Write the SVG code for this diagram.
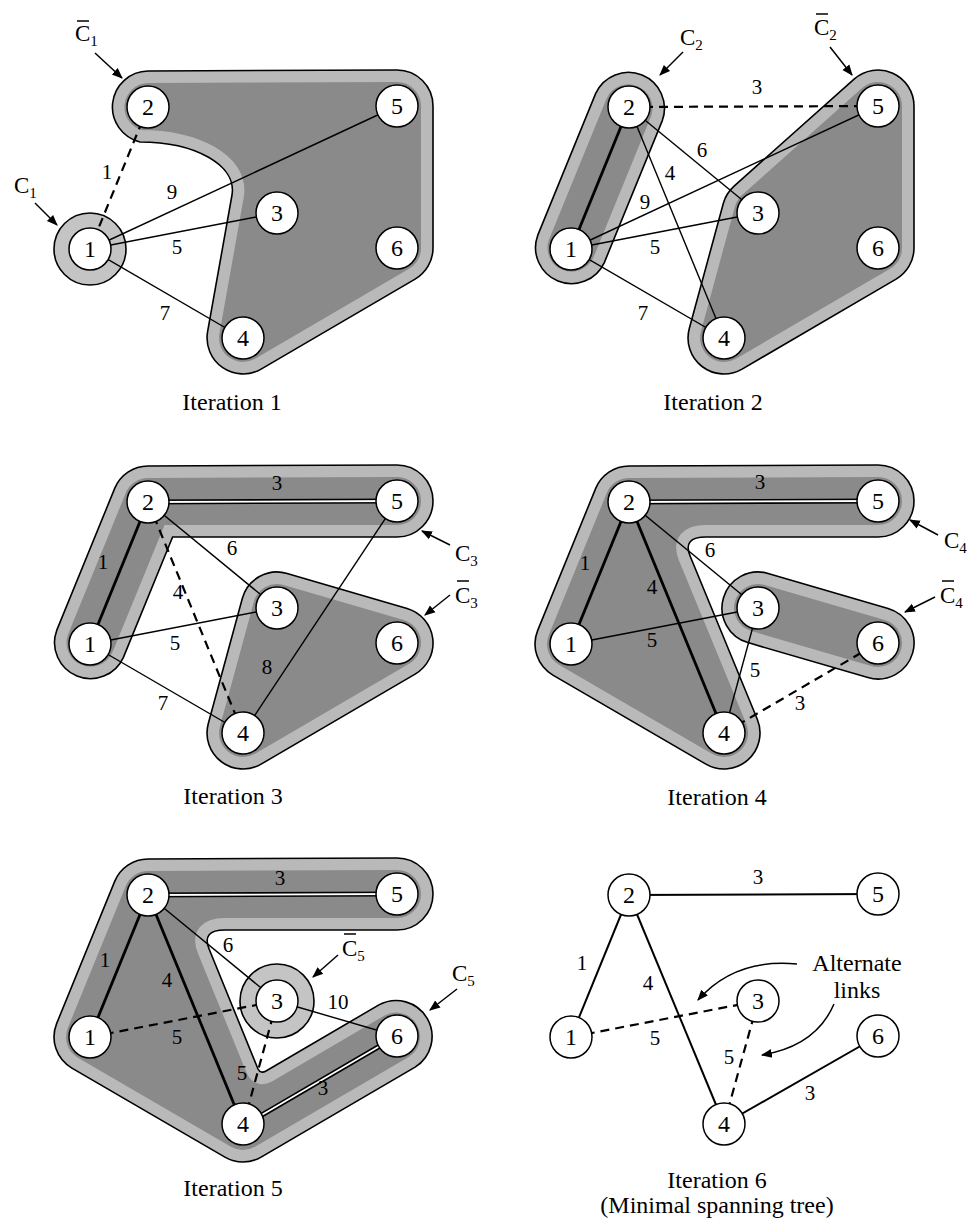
<svg xmlns="http://www.w3.org/2000/svg" xmlns:xlink="http://www.w3.org/1999/xlink" width="967" height="1222" viewBox="0 0 967 1222">
<style>
.n circle{fill:#fff;stroke:#000;stroke-width:1.5}
.n text{font-family:"Liberation Serif",serif;font-size:24px;text-anchor:middle;fill:#000}
.reg{fill:#8a8a8a;stroke:none}
.band{fill:none;stroke:#b9b9b9;stroke-width:24}
.out{fill:none;stroke:#000;stroke-width:1.6}
.ring{fill:#c4c4c4;stroke:#000;stroke-width:1.6}
.e line,.e path{stroke:#000;stroke-width:1.4;fill:none}
.e .d{stroke-dasharray:9 6;stroke-width:2.2}
.e .t{stroke-width:2.8}
.e .dbo{stroke-width:5}
.e .dbi{stroke:#fff;stroke-width:1.8}
.e .s6{stroke-width:2}
.lb{font-family:"Liberation Serif",serif;font-size:21px;text-anchor:middle;fill:#000}
.cl{font-family:"Liberation Serif",serif;font-size:23px;fill:#000}
.sub{font-size:15px}
.cap{font-family:"Liberation Serif",serif;font-size:24px;text-anchor:middle;fill:#000}
.ar{stroke:#000;stroke-width:1.5;fill:none;marker-end:url(#ah)}
.bar{stroke:#000;stroke-width:1.5}
</style>
<defs>
<marker id="ah" viewBox="0 0 10 10" refX="9" refY="5" markerWidth="11" markerHeight="11" markerUnits="userSpaceOnUse" orient="auto"><path d="M0,1 L10,5 L0,9 z" fill="#000"/></marker>
<path id="R1" d="M 148,71 L 397,70 A 36 36 0 0 1 433,106 L 433,248 A 36 36 0 0 1 415.1,279.1 L 261.1,369.1 A 36 36 0 0 1 207.6,331.7 L 232,195 C 237,165 195,142 140,142 A 36 36 0 0 1 148,71 Z"/>
<path id="R2a" d="M 123.3,262.6 L 181.3,120.6 A 36 36 0 0 0 114.7,93.4 L 56.7,235.4 A 36 36 0 0 0 123.3,262.6 Z"/>
<path id="R2b" d="M 373.1,79.1 A 36 36 0 0 1 433,106 L 433,248 A 36 36 0 0 1 415.1,279.1 L 261.1,369.1 A 36 36 0 0 1 208.3,328.5 L 242.3,203.5 A 36 36 0 0 1 253.1,186.1 Z"/>
<path id="R3a" d="M 148,71 L 397,70 A 36 36 0 0 1 397,142 L 172.6,142 L 123.3,262.6 A 36 36 0 0 1 56.7,235.4 L 114.7,93.4 A 36 36 0 0 1 148,71 Z"/>
<path id="R3b" d="M 287.1,178.4 L 407.1,213.4 A 36 36 0 0 1 415.1,279.1 L 261.1,369.1 A 36 36 0 0 1 208.3,328.5 L 242.3,203.5 A 36 36 0 0 1 287.1,178.4 Z"/>
<path id="R4a" d="M 148,71 L 397,70 A 36 36 0 0 1 397,142 L 225,142 Q 201.3,142 209.1,161 L 276.3,324.3 A 36 36 0 0 1 224.9,369.1 L 71.9,280.1 A 36 36 0 0 1 56.7,235.4 L 114.7,93.4 A 36 36 0 0 1 148,71 Z"/>
<path id="R4b" d="M 287.1,178.4 L 407.1,213.4 A 36 36 0 0 1 386.9,282.6 L 266.9,247.6 A 36 36 0 0 1 287.1,178.4 Z"/>
<path id="R5" d="M 148,71 L 397,70 A 36 36 0 0 1 397,142 L 225,142 Q 201.3,142 209.1,161 L 258,281 Q 260.6,286 266,283 L 378.9,216.9 A 36 36 0 0 1 415.1,279.1 L 261.1,369.1 A 36 36 0 0 1 224.9,369.1 L 71.9,280.1 A 36 36 0 0 1 56.7,235.4 L 114.7,93.4 A 36 36 0 0 1 148,71 Z"/>
<clipPath id="cR1"><use xlink:href="#R1"/></clipPath>
<clipPath id="cR2a"><use xlink:href="#R2a"/></clipPath>
<clipPath id="cR2b"><use xlink:href="#R2b"/></clipPath>
<clipPath id="cR3a"><use xlink:href="#R3a"/></clipPath>
<clipPath id="cR3b"><use xlink:href="#R3b"/></clipPath>
<clipPath id="cR4a"><use xlink:href="#R4a"/></clipPath>
<clipPath id="cR4b"><use xlink:href="#R4b"/></clipPath>
<clipPath id="cR5"><use xlink:href="#R5"/></clipPath>
</defs>
<rect width="967" height="1222" fill="#fff"/>

<!-- Panel 1 -->
<g id="panel1">
<g id="p1-regions">
<use xlink:href="#R1" class="reg"/><use xlink:href="#R1" class="band" clip-path="url(#cR1)"/><use xlink:href="#R1" class="out"/>
<circle class="ring" cx="90" cy="249" r="36"/>
</g>
<g id="p1-connectors" class="e">
<line class="d" x1="148" y1="107" x2="90" y2="249"/>
<line x1="90" y1="249" x2="397" y2="106"/>
<line x1="90" y1="249" x2="277" y2="213"/>
<line x1="90" y1="249" x2="243" y2="338"/>
<text class="lb" x="107" y="179">1</text>
<text class="lb" x="172" y="199">9</text>
<text class="lb" x="177" y="254">5</text>
<text class="lb" x="165" y="320">7</text>
</g>
<g id="p1-n1" class="n"><circle cx="90" cy="249" r="21"/><text x="90" y="257">1</text></g>
<g id="p1-n2" class="n"><circle cx="148" cy="107" r="21"/><text x="148" y="115">2</text></g>
<g id="p1-n3" class="n"><circle cx="277" cy="213" r="21"/><text x="277" y="221">3</text></g>
<g id="p1-n4" class="n"><circle cx="243" cy="338" r="21"/><text x="243" y="346">4</text></g>
<g id="p1-n5" class="n"><circle cx="397" cy="106" r="21"/><text x="397" y="114">5</text></g>
<g id="p1-n6" class="n"><circle cx="397" cy="248" r="21"/><text x="397" y="256">6</text></g>
<g id="p1-labels">
<text class="cl" x="75" y="41">C<tspan class="sub" dy="5">1</tspan></text><line class="bar" x1="77" y1="21" x2="89" y2="21"/>
<line class="ar" x1="95" y1="53" x2="122" y2="78"/>
<text class="cl" x="14" y="193">C<tspan class="sub" dy="5">1</tspan></text>
<line class="ar" x1="35" y1="203" x2="57" y2="225"/>
<text class="cap" x="232" y="410">Iteration 1</text>
</g>
</g>

<!-- Panel 2 -->
<g id="panel2">
<g id="p2-regions" transform="translate(481,0)">
<use xlink:href="#R2a" class="reg"/><use xlink:href="#R2a" class="band" clip-path="url(#cR2a)"/><use xlink:href="#R2a" class="out"/>
<use xlink:href="#R2b" class="reg"/><use xlink:href="#R2b" class="band" clip-path="url(#cR2b)"/><use xlink:href="#R2b" class="out"/>
</g>
<g id="p2-connectors" class="e" transform="translate(481,0)">
<line class="t" x1="148" y1="107" x2="90" y2="249"/>
<line class="d" x1="148" y1="107" x2="397" y2="106"/>
<line x1="148" y1="107" x2="277" y2="213"/>
<line x1="148" y1="107" x2="243" y2="338"/>
<line x1="90" y1="249" x2="397" y2="106"/>
<line x1="90" y1="249" x2="277" y2="213"/>
<line x1="90" y1="249" x2="243" y2="338"/>
<text class="lb" x="276" y="94">3</text>
<text class="lb" x="221" y="157">6</text>
<text class="lb" x="189" y="180">4</text>
<text class="lb" x="164" y="209">9</text>
<text class="lb" x="174" y="254">5</text>
<text class="lb" x="162" y="320">7</text>
</g>
<g transform="translate(481,0)">
<g id="p2-n1" class="n"><circle cx="90" cy="249" r="21"/><text x="90" y="257">1</text></g>
<g id="p2-n2" class="n"><circle cx="148" cy="107" r="21"/><text x="148" y="115">2</text></g>
<g id="p2-n3" class="n"><circle cx="277" cy="213" r="21"/><text x="277" y="221">3</text></g>
<g id="p2-n4" class="n"><circle cx="243" cy="338" r="21"/><text x="243" y="346">4</text></g>
<g id="p2-n5" class="n"><circle cx="397" cy="106" r="21"/><text x="397" y="114">5</text></g>
<g id="p2-n6" class="n"><circle cx="397" cy="248" r="21"/><text x="397" y="256">6</text></g>
</g>
<g id="p2-labels">
<text class="cl" x="680" y="45">C<tspan class="sub" dy="5">2</tspan></text>
<line class="ar" x1="683" y1="52" x2="660" y2="75"/>
<text class="cl" x="814" y="35">C<tspan class="sub" dy="5">2</tspan></text><line class="bar" x1="816" y1="14" x2="828" y2="14"/>
<line class="ar" x1="830" y1="47" x2="852" y2="75"/>
<text class="cap" x="713" y="410">Iteration 2</text>
</g>
</g>

<!-- Panel 3 -->
<g id="panel3">
<g id="p3-regions" transform="translate(0,395)">
<use xlink:href="#R3a" class="reg"/><use xlink:href="#R3a" class="band" clip-path="url(#cR3a)"/><use xlink:href="#R3a" class="out"/>
<use xlink:href="#R3b" class="reg"/><use xlink:href="#R3b" class="band" clip-path="url(#cR3b)"/><use xlink:href="#R3b" class="out"/>
</g>
<g id="p3-connectors" class="e" transform="translate(0,395)">
<line class="dbo" x1="148" y1="107" x2="397" y2="106"/><line class="dbi" x1="148" y1="107" x2="397" y2="106"/>
<line class="t" x1="148" y1="107" x2="90" y2="249"/>
<line x1="148" y1="107" x2="277" y2="213"/>
<line class="d" x1="148" y1="107" x2="243" y2="338"/>
<line x1="90" y1="249" x2="277" y2="213"/>
<line x1="90" y1="249" x2="243" y2="338"/>
<line x1="397" y1="106" x2="243" y2="338"/>
<text class="lb" x="277" y="95">3</text>
<text class="lb" x="103" y="174">1</text>
<text class="lb" x="232" y="160">6</text>
<text class="lb" x="178" y="204">4</text>
<text class="lb" x="175" y="255">5</text>
<text class="lb" x="163" y="315">7</text>
<text class="lb" x="267" y="279">8</text>
</g>
<g transform="translate(0,395)">
<g id="p3-n1" class="n"><circle cx="90" cy="249" r="21"/><text x="90" y="257">1</text></g>
<g id="p3-n2" class="n"><circle cx="148" cy="107" r="21"/><text x="148" y="115">2</text></g>
<g id="p3-n3" class="n"><circle cx="277" cy="213" r="21"/><text x="277" y="221">3</text></g>
<g id="p3-n4" class="n"><circle cx="243" cy="338" r="21"/><text x="243" y="346">4</text></g>
<g id="p3-n5" class="n"><circle cx="397" cy="106" r="21"/><text x="397" y="114">5</text></g>
<g id="p3-n6" class="n"><circle cx="397" cy="248" r="21"/><text x="397" y="256">6</text></g>
</g>
<g id="p3-labels">
<text class="cl" x="455" y="561">C<tspan class="sub" dy="5">3</tspan></text>
<line class="ar" x1="450" y1="545" x2="422" y2="531"/>
<text class="cl" x="455" y="603">C<tspan class="sub" dy="5">3</tspan></text><line class="bar" x1="457" y1="581" x2="469" y2="581"/>
<line class="ar" x1="450" y1="595" x2="425" y2="615"/>
<text class="cap" x="233" y="804">Iteration 3</text>
</g>
</g>

<!-- Panel 4 -->
<g id="panel4">
<g id="p4-regions" transform="translate(481,395)">
<use xlink:href="#R4a" class="reg"/><use xlink:href="#R4a" class="band" clip-path="url(#cR4a)"/><use xlink:href="#R4a" class="out"/>
<use xlink:href="#R4b" class="reg"/><use xlink:href="#R4b" class="band" clip-path="url(#cR4b)"/><use xlink:href="#R4b" class="out"/>
</g>
<g id="p4-connectors" class="e" transform="translate(481,395)">
<line class="dbo" x1="148" y1="107" x2="397" y2="106"/><line class="dbi" x1="148" y1="107" x2="397" y2="106"/>
<line class="t" x1="148" y1="107" x2="90" y2="249"/>
<line class="t" x1="148" y1="107" x2="243" y2="338"/>
<line x1="148" y1="107" x2="277" y2="213"/>
<line x1="90" y1="249" x2="277" y2="213"/>
<line x1="277" y1="213" x2="243" y2="338"/>
<line class="d" x1="243" y1="338" x2="397" y2="248"/>
<text class="lb" x="279" y="94">3</text>
<text class="lb" x="104" y="175">1</text>
<text class="lb" x="171" y="199">4</text>
<text class="lb" x="171" y="252">5</text>
<text class="lb" x="229" y="162">6</text>
<text class="lb" x="274" y="282">5</text>
<text class="lb" x="319" y="315">3</text>
</g>
<g transform="translate(481,395)">
<g id="p4-n1" class="n"><circle cx="90" cy="249" r="21"/><text x="90" y="257">1</text></g>
<g id="p4-n2" class="n"><circle cx="148" cy="107" r="21"/><text x="148" y="115">2</text></g>
<g id="p4-n3" class="n"><circle cx="277" cy="213" r="21"/><text x="277" y="221">3</text></g>
<g id="p4-n4" class="n"><circle cx="243" cy="338" r="21"/><text x="243" y="346">4</text></g>
<g id="p4-n5" class="n"><circle cx="397" cy="106" r="21"/><text x="397" y="114">5</text></g>
<g id="p4-n6" class="n"><circle cx="397" cy="248" r="21"/><text x="397" y="256">6</text></g>
</g>
<g id="p4-labels">
<text class="cl" x="944" y="548">C<tspan class="sub" dy="5">4</tspan></text>
<line class="ar" x1="938" y1="535" x2="910" y2="520"/>
<text class="cl" x="940" y="603">C<tspan class="sub" dy="5">4</tspan></text><line class="bar" x1="942" y1="581" x2="954" y2="581"/>
<line class="ar" x1="935" y1="597" x2="905" y2="612"/>
<text class="cap" x="717" y="805">Iteration 4</text>
</g>
</g>

<!-- Panel 5 -->
<g id="panel5">
<g id="p5-regions" transform="translate(0,788)">
<use xlink:href="#R5" class="reg"/><use xlink:href="#R5" class="band" clip-path="url(#cR5)"/><use xlink:href="#R5" class="out"/>
<circle class="ring" cx="277" cy="213" r="37"/>
</g>
<g id="p5-connectors" class="e" transform="translate(0,788)">
<line class="dbo" x1="148" y1="107" x2="397" y2="106"/><line class="dbi" x1="148" y1="107" x2="397" y2="106"/>
<line class="dbo" x1="243" y1="338" x2="397" y2="248"/><line class="dbi" x1="243" y1="338" x2="397" y2="248"/>
<line class="t" x1="148" y1="107" x2="90" y2="249"/>
<line class="t" x1="148" y1="107" x2="243" y2="338"/>
<line x1="148" y1="107" x2="277" y2="213"/>
<line x1="277" y1="213" x2="397" y2="248"/>
<line class="d" x1="90" y1="249" x2="277" y2="213"/>
<line class="d" x1="277" y1="213" x2="243" y2="338"/>
<text class="lb" x="280" y="97">3</text>
<text class="lb" x="105" y="179">1</text>
<text class="lb" x="167" y="199">4</text>
<text class="lb" x="228" y="164">6</text>
<text class="lb" x="177" y="256">5</text>
<text class="lb" x="242" y="292">5</text>
<text class="lb" x="338" y="221">10</text>
<text class="lb" x="323" y="307">3</text>
</g>
<g transform="translate(0,788)">
<g id="p5-n1" class="n"><circle cx="90" cy="249" r="21"/><text x="90" y="257">1</text></g>
<g id="p5-n2" class="n"><circle cx="148" cy="107" r="21"/><text x="148" y="115">2</text></g>
<g id="p5-n3" class="n"><circle cx="277" cy="213" r="21"/><text x="277" y="221">3</text></g>
<g id="p5-n4" class="n"><circle cx="243" cy="336" r="21"/><text x="243" y="344">4</text></g>
<g id="p5-n5" class="n"><circle cx="397" cy="106" r="21"/><text x="397" y="114">5</text></g>
<g id="p5-n6" class="n"><circle cx="397" cy="248" r="21"/><text x="397" y="256">6</text></g>
</g>
<g id="p5-labels">
<text class="cl" x="342" y="956">C<tspan class="sub" dy="5">5</tspan></text><line class="bar" x1="344" y1="934" x2="356" y2="934"/>
<line class="ar" x1="338" y1="955" x2="313" y2="977"/>
<text class="cl" x="452" y="981">C<tspan class="sub" dy="5">5</tspan></text>
<line class="ar" x1="457" y1="989" x2="430" y2="1010"/>
<text class="cap" x="233" y="1196">Iteration 5</text>
</g>
</g>

<!-- Panel 6 -->
<g id="panel6">
<g id="p6-connectors" class="e" transform="translate(481,788)">
<line class="s6" x1="148" y1="107" x2="397" y2="106"/>
<line class="s6" x1="148" y1="107" x2="90" y2="249"/>
<line class="s6" x1="148" y1="107" x2="243" y2="336"/>
<line class="s6" x1="243" y1="336" x2="397" y2="248"/>
<line class="d" x1="90" y1="249" x2="277" y2="213"/>
<line class="d" x1="277" y1="213" x2="243" y2="336"/>
<text class="lb" x="277" y="96">3</text>
<text class="lb" x="101" y="182">1</text>
<text class="lb" x="167" y="202">4</text>
<text class="lb" x="174" y="257">5</text>
<text class="lb" x="248" y="276">5</text>
<text class="lb" x="329" y="312">3</text>
</g>
<g transform="translate(481,788)">
<g id="p6-n1" class="n"><circle cx="90" cy="249" r="21"/><text x="90" y="257">1</text></g>
<g id="p6-n2" class="n"><circle cx="148" cy="107" r="21"/><text x="148" y="115">2</text></g>
<g id="p6-n3" class="n"><circle cx="277" cy="213" r="21"/><text x="277" y="221">3</text></g>
<g id="p6-n4" class="n"><circle cx="243" cy="336" r="21"/><text x="243" y="344">4</text></g>
<g id="p6-n5" class="n"><circle cx="397" cy="106" r="21"/><text x="397" y="114">5</text></g>
<g id="p6-n6" class="n"><circle cx="397" cy="248" r="21"/><text x="397" y="256">6</text></g>
</g>
<g id="p6-labels">
<text class="cap" x="857" y="971">Alternate</text>
<text class="cap" x="857" y="998">links</text>
<path class="ar" d="M 797,964 Q 735,958 698,1000"/>
<path class="ar" d="M 834,1004 Q 816,1046 762,1055"/>
<text class="cap" x="717" y="1188">Iteration 6</text>
<text class="cap" x="717" y="1213">(Minimal spanning tree)</text>
</g>
</g>
</svg>
